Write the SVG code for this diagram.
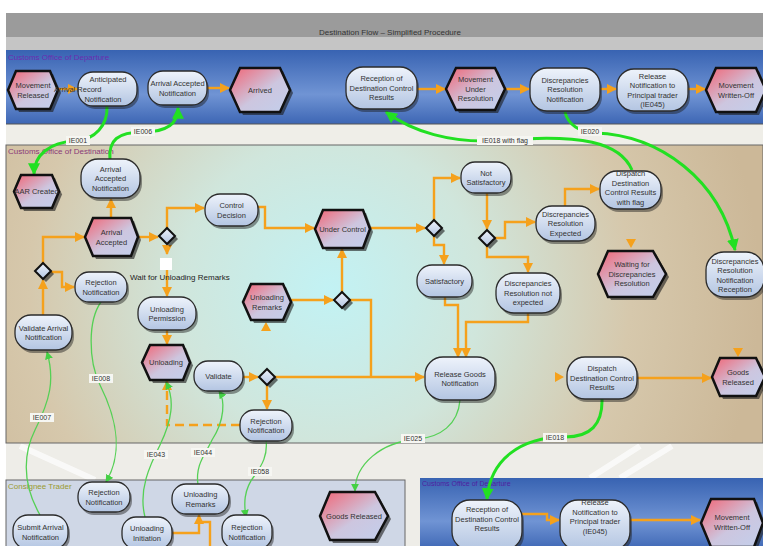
<svg xmlns="http://www.w3.org/2000/svg" width="763" height="546" viewBox="0 0 763 546">
<defs>
  <style>
    .hex{fill:url(#gHex);stroke:#111;stroke-width:2.5}
    .hsh{fill:#1a1a1a;opacity:.6}
    .rr{fill:url(#gRR);stroke:#2b2b2b;stroke-width:1.3}
    .rsh{fill:#1a1a1a;opacity:.45}
    .dia{fill:url(#gRR);stroke:#111;stroke-width:2}
    .t{font-family:"Liberation Sans",Arial,sans-serif;font-size:7.5px;fill:#333;text-anchor:middle}
    .lane{font-family:"Liberation Sans",Arial,sans-serif;font-size:8px}
    .lbl{font-family:"Liberation Sans",Arial,sans-serif;font-size:7px;fill:#333;text-anchor:middle}
    .lb{fill:#f6f6f2}
    .or{stroke:#f5a11c;stroke-width:2.4;fill:none;marker-end:url(#aO)}
    .orn{stroke:#f5a11c;stroke-width:2.4;fill:none}
    .dash{stroke:#f5a11c;stroke-width:2.4;fill:none;stroke-dasharray:9 5;marker-end:url(#aO)}
    .gT{stroke:#22e022;stroke-width:3;fill:none;marker-end:url(#aG)}
    .gt{stroke:#55d055;stroke-width:1.3;fill:none;marker-end:url(#ag)}
  </style>
  <linearGradient id="gHex" x1="0" y1="0" x2="1" y2="1">
    <stop offset="0" stop-color="#f26474"/>
    <stop offset="0.55" stop-color="#cdc6df"/>
    <stop offset="1" stop-color="#c2cfec"/>
  </linearGradient>
  <linearGradient id="gRR" x1="0" y1="0" x2="0" y2="1">
    <stop offset="0" stop-color="#eef3fb"/>
    <stop offset="1" stop-color="#b3c5e2"/>
  </linearGradient>
  <linearGradient id="gBlue" x1="0" y1="0" x2="0" y2="1">
    <stop offset="0" stop-color="#3863b2"/>
    <stop offset="0.6" stop-color="#7094d4"/>
    <stop offset="1" stop-color="#3d66b4"/>
  </linearGradient>
  <radialGradient id="gDest" cx="330" cy="290" r="430" gradientUnits="userSpaceOnUse">
    <stop offset="0" stop-color="#c2f2f4"/>
    <stop offset="0.35" stop-color="#d0e6dc"/>
    <stop offset="0.7" stop-color="#d6c8ac"/>
    <stop offset="1" stop-color="#ccb898"/>
  </radialGradient>
  <marker id="aO" viewBox="0 0 10 10" refX="9" refY="5" markerWidth="10" markerHeight="10" markerUnits="userSpaceOnUse" orient="auto"><path d="M0,0L10,5L0,10z" fill="#f5a11c"/></marker>
  <marker id="aG" viewBox="0 0 10 10" refX="9" refY="5" markerWidth="12" markerHeight="12" markerUnits="userSpaceOnUse" orient="auto"><path d="M0,0L10,5L0,10z" fill="#22e022"/></marker>
  <marker id="ag" viewBox="0 0 10 10" refX="9" refY="5" markerWidth="8" markerHeight="8" markerUnits="userSpaceOnUse" orient="auto"><path d="M0,0L10,5L0,10z" fill="#44d044"/></marker>
</defs>

<!-- page and title bar -->
<rect width="763" height="546" fill="#ffffff"/>
<rect x="6" y="13" width="757" height="24" fill="#9b9b9b"/>
<rect x="6" y="37" width="757" height="13" fill="#c5c5c5"/>
<text x="390" y="35" class="lane" style="fill:#333;text-anchor:middle">Destination Flow – Simplified Procedure</text>

<!-- swimlanes -->
<rect x="6" y="124" width="757" height="21" fill="#efeee8"/>
<rect x="6" y="443" width="757" height="103" fill="#eeede8"/>
<path d="M20,446 L95,480 M590,478 L640,446 M620,478 L672,446" stroke="#ffffff" stroke-width="6" opacity=".7"/>
<rect x="6" y="50" width="757" height="74" fill="url(#gBlue)"/>
<line x1="6" y1="124" x2="763" y2="124" stroke="#555" stroke-width="1"/>
<text x="8" y="60" class="lane" style="fill:#6a2db0">Customs Office of Departure</text>
<rect x="6" y="145" width="757" height="298" fill="url(#gDest)" stroke="#666" stroke-width="1"/>
<text x="8" y="154" class="lane" style="fill:#8a3a78">Customs Office of Destination</text>
<rect x="6" y="480" width="399" height="70" fill="#cfd7e6" stroke="#666" stroke-width="1"/>
<text x="8" y="489" class="lane" style="fill:#9a9a30">Consignee Trader</text>
<rect x="420" y="478" width="343" height="72" fill="url(#gBlue)"/>
<text x="422" y="486" class="lane" style="fill:#5020a0;font-size:7px">Customs Office of Departure</text>

<!-- connectors -->
<g id="connectors">
  <!-- sequence flows -->
  <path class="or" d="M58,89 H77"/>
  <path class="or" d="M207,88 H229"/>
  <path class="or" d="M417,89 H445"/>
  <path class="or" d="M505,89 H529"/>
  <path class="or" d="M600,89 H616"/>
  <path class="or" d="M688,89 H705"/>
  <path class="or" d="M111,218 V199"/>
  <path class="or" d="M43,264 V237 H84"/>
  <path class="or" d="M51,272 H62 V287 H74"/>
  <path class="or" d="M43,315 V280"/>
  <path class="or" d="M138,237 H158"/>
  <path class="or" d="M167,228 V208 H204"/>
  <path class="or" d="M167,245 V254"/>
  <path class="or" d="M167,270 V296"/>
  <path class="or" d="M258,207 H265 V228 H314"/>
  <path class="or" d="M370,228 H425"/>
  <path class="or" d="M434,220 V178 H460"/>
  <path class="or" d="M434,236 V245 H444 V264"/>
  <path class="or" d="M487,193 V229"/>
  <path class="or" d="M495,238 H505 V222 H535"/>
  <path class="or" d="M487,246 V257 H528 V272"/>
  <path class="or" d="M565,206 V189 H599"/>
  <path class="or" d="M445,297 V305 H458 V357"/>
  <path class="or" d="M528,313 V322 H466 V357"/>
  <path class="or" d="M291,300 H333"/>
  <path class="or" d="M342,292 V249"/>
  <path class="orn" d="M350,300 H371 V377"/>
  <path class="or" d="M275,377 H424"/>
  <path class="or" d="M243,377 H258"/>
  <path class="or" d="M267,385 V409"/>
  <path class="or" d="M167,330 V344"/>
  <path class="dash" d="M240,425 H167 V381"/>
  <path class="or" d="M637,378 H711"/>
  <path class="or" d="M172,533 H199 V515"/>
  <path class="orn" d="M210,546 V522 H200"/>
  <path class="or" d="M522,514 H547 V520 H559"/>
  <path class="or" d="M630,520 H700"/>
  <path d="M626,239 H636 L631,248 z M261,331 H271 L266,322 z M555,372 V382 L564,377 z M733,348 H743 L738,357 z" fill="#f5a11c"/>

  <!-- message flows -->
  <path class="gT" d="M107,106 C108,125 95,140 75,141 C50,142 34,155 34,174"/>
  <path class="gT" d="M110,160 C108,140 118,132 143,132 C165,132 178,125 178,108"/>
  <path class="gT" d="M632,170 C620,142 580,134 505,140 C450,145 410,130 386,112"/>
  <path class="gT" d="M565,112 C568,125 580,132 595,133 C660,135 720,180 735,250"/>
  <path class="gT" d="M602,398 C603,425 590,437 565,437 C520,437 490,460 487,499"/>
  <path class="gt" d="M40,515 C20,480 25,450 35,430 C50,400 55,380 47,352"/>
  <path class="gt" d="M101,302 C88,320 88,360 100,385 C115,415 125,450 106,482"/>
  <path class="gt" d="M145,517 C138,490 150,465 160,445 C172,420 175,400 166,382"/>
  <path class="gt" d="M198,485 C195,465 205,455 212,440 C225,420 225,400 219,391"/>
  <path class="gt" d="M266,440 C268,455 262,465 255,475 C243,490 244,505 246,517"/>
  <path class="gt" d="M460,400 C458,425 440,437 418,439 C380,442 355,465 355,491"/>

  <!-- message labels -->
  <rect class="lb" x="66" y="136" width="24" height="9"/><text class="lbl" x="78" y="143">IE001</text>
  <rect class="lb" x="131" y="127" width="24" height="9"/><text class="lbl" x="143" y="134">IE006</text>
  <rect class="lb" x="477" y="136" width="56" height="9"/><text class="lbl" x="505" y="143">IE018 with flag</text>
  <rect class="lb" x="578" y="127" width="24" height="9"/><text class="lbl" x="590" y="134">IE020</text>
  <rect class="lb" x="30" y="413" width="24" height="9"/><text class="lbl" x="42" y="420">IE007</text>
  <rect class="lb" x="89" y="374" width="24" height="9"/><text class="lbl" x="101" y="381">IE008</text>
  <rect class="lb" x="144" y="450" width="24" height="9"/><text class="lbl" x="156" y="457">IE043</text>
  <rect class="lb" x="191" y="448" width="24" height="9"/><text class="lbl" x="203" y="455">IE044</text>
  <rect class="lb" x="248" y="467" width="24" height="9"/><text class="lbl" x="260" y="474">IE058</text>
  <rect class="lb" x="401" y="434" width="24" height="9"/><text class="lbl" x="413" y="441">IE025</text>
  <rect class="lb" x="543" y="433" width="24" height="9"/><text class="lbl" x="555" y="440">IE018</text>
</g>

<!-- departure office (top) -->
<g id="movement-released"><polygon class="hsh" points="19,74 53,74 61,93 53,112 19,112 11,93"/><polygon class="hex" points="16,71 50,71 58,90 50,109 16,109 8,90"/><text class="t" x="33" y="88">Movement</text><text class="t" x="33" y="97.5">Released</text></g>
<g id="anticipated-record"><rect class="rsh" x="80" y="75" width="59" height="34" rx="15"/><rect class="rr" x="78" y="72" width="59" height="34" rx="15"/><text class="t" x="108" y="82">Anticipated</text><text class="t" x="54" y="92" style="text-anchor:start">Arrival Record</text><text class="t" x="103" y="102">Notification</text></g>
<g id="arrival-accepted-notification-dep"><rect class="rsh" x="150" y="74" width="59" height="34" rx="15"/><rect class="rr" x="148" y="71" width="59" height="34" rx="15"/><text class="t" x="177.5" y="86">Arrival Accepted</text><text class="t" x="177.5" y="95.5">Notification</text></g>
<g id="arrived"><polygon class="hsh" points="243,71 283,71 293,93 283,115 243,115 233,93"/><polygon class="hex" points="240,68 280,68 290,90 280,112 240,112 230,90"/><text class="t" x="260" y="92.7">Arrived</text></g>
<g id="reception-dcr"><rect class="rsh" x="348" y="70" width="71" height="42" rx="17"/><rect class="rr" x="346" y="67" width="71" height="42" rx="17"/><text class="t" x="381.5" y="81.2">Reception of</text><text class="t" x="381.5" y="90.7">Destination Control</text><text class="t" x="381.5" y="100.2">Results</text></g>
<g id="movement-under-resolution"><polygon class="hsh" points="459,71 498,71 508,92 498,113 459,113 449,92"/><polygon class="hex" points="456,68 495,68 505,89 495,110 456,110 446,89"/><text class="t" x="475.5" y="82.2">Movement</text><text class="t" x="475.5" y="91.7">Under</text><text class="t" x="475.5" y="101.2">Resolution</text></g>
<g id="discrepancies-resolution-notification"><rect class="rsh" x="532" y="71" width="70" height="43" rx="17"/><rect class="rr" x="530" y="68" width="70" height="43" rx="17"/><text class="t" x="565" y="82.7">Discrepancies</text><text class="t" x="565" y="92.2">Resolution</text><text class="t" x="565" y="101.7">Notification</text></g>
<g id="release-notification"><rect class="rsh" x="619" y="72" width="71" height="42" rx="17"/><rect class="rr" x="617" y="69" width="71" height="42" rx="17"/><text class="t" x="652.5" y="78.5">Release</text><text class="t" x="652.5" y="88">Notification to</text><text class="t" x="652.5" y="97.5">Principal trader</text><text class="t" x="652.5" y="107">(IE045)</text></g>
<g id="movement-written-off"><polygon class="hsh" points="719,71 759,71 769,93 759,115 719,115 709,93"/><polygon class="hex" points="716,68 756,68 766,90 756,112 716,112 706,90"/><text class="t" x="736" y="88">Movement</text><text class="t" x="736" y="97.5">Written-Off</text></g>

<!-- destination office -->
<g id="aar-created"><polygon class="hsh" points="24,178 55,178 62,194.5 55,211 24,211 17,194.5"/><polygon class="hex" points="21,175 52,175 59,191.5 52,208 21,208 14,191.5"/><text class="t" x="36.5" y="194">AAR Created</text></g>
<g id="arrival-accepted-notification-dest"><rect class="rsh" x="83" y="162" width="59" height="39" rx="17"/><rect class="rr" x="81" y="159" width="59" height="39" rx="17"/><text class="t" x="110.5" y="171.7">Arrival</text><text class="t" x="110.5" y="181.2">Accepted</text><text class="t" x="110.5" y="190.7">Notification</text></g>
<g id="arrival-accepted"><polygon class="hsh" points="96,221 134,221 141,240 134,259 96,259 88,240"/><polygon class="hex" points="93,218 131,218 138,237 131,256 93,256 85,237"/><text class="t" x="111.5" y="235">Arrival</text><text class="t" x="111.5" y="244.5">Accepted</text></g>
<g id="gw-arrival"><polygon class="hsh" points="170,231 178,239 170,247 162,239"/><polygon class="dia" points="167,228 175,236 167,244 159,236"/></g>
<g id="control-decision"><rect class="rsh" x="207" y="197" width="53" height="32" rx="15"/><rect class="rr" x="205" y="194" width="53" height="32" rx="15"/><text class="t" x="231.5" y="208">Control</text><text class="t" x="231.5" y="217.5">Decision</text></g>
<g id="under-control"><polygon class="hsh" points="326,213 366,213 373,232 366,251 326,251 318,232"/><polygon class="hex" points="323,210 363,210 370,229 363,248 323,248 315,229"/><text class="t" x="342.5" y="231.7">Under Control</text></g>
<g id="gw-control"><polygon class="hsh" points="437,223 445,231 437,239 429,231"/><polygon class="dia" points="434,220 442,228 434,236 426,228"/></g>
<g id="not-satisfactory"><rect class="rsh" x="463" y="165" width="50" height="31" rx="14"/><rect class="rr" x="461" y="162" width="50" height="31" rx="14"/><text class="t" x="486" y="175.5">Not</text><text class="t" x="486" y="185">Satisfactory</text></g>
<g id="gw-discrepancies"><polygon class="hsh" points="490,233 498,241 490,249 482,241"/><polygon class="dia" points="487,230 495,238 487,246 479,238"/></g>
<g id="discrepancies-resolution-expected"><rect class="rsh" x="538" y="209" width="59" height="35" rx="16"/><rect class="rr" x="536" y="206" width="59" height="35" rx="16"/><text class="t" x="565.5" y="216.7">Discrepancies</text><text class="t" x="565.5" y="226.2">Resolution</text><text class="t" x="565.5" y="235.7">Expected</text></g>
<g id="dispatch-dcr-flag"><rect class="rsh" x="602" y="174" width="61" height="38" rx="17"/><rect class="rr" x="600" y="171" width="61" height="38" rx="17"/><text class="t" x="630.5" y="176">Dispatch</text><text class="t" x="630.5" y="185.5">Destination</text><text class="t" x="630.5" y="195">Control  Results</text><text class="t" x="630.5" y="204.5">with flag</text></g>
<g id="waiting-discrepancies"><polygon class="hsh" points="611,254 656,254 669,277 656,300 611,300 601,277"/><polygon class="hex" points="608,251 653,251 666,274 653,297 608,297 598,274"/><text class="t" x="632" y="267.2">Waiting for</text><text class="t" x="632" y="276.7">Discrepancies</text><text class="t" x="632" y="286.2">Resolution</text></g>
<g id="discrepancies-reception"><rect class="rsh" x="708" y="255" width="58" height="45" rx="18"/><rect class="rr" x="706" y="252" width="58" height="45" rx="18"/><text class="t" x="735" y="263.5">Discrepancies</text><text class="t" x="735" y="273">Resolution</text><text class="t" x="735" y="282.5">Notification</text><text class="t" x="735" y="292">Reception</text></g>
<g id="satisfactory"><rect class="rsh" x="419" y="268" width="55" height="32" rx="15"/><rect class="rr" x="417" y="265" width="55" height="32" rx="15"/><text class="t" x="444.5" y="283.7">Satisfactory</text></g>
<g id="discrepancies-not-expected"><rect class="rsh" x="498" y="276" width="64" height="40" rx="18"/><rect class="rr" x="496" y="273" width="64" height="40" rx="18"/><text class="t" x="528" y="286.2">Discrepancies</text><text class="t" x="528" y="295.7">Resolution not</text><text class="t" x="528" y="305.2">expected</text></g>
<g id="gw-validation"><polygon class="hsh" points="46,266 54,274 46,282 38,274"/><polygon class="dia" points="43,263 51,271 43,279 35,271"/></g>
<g id="rejection-notification-1"><rect class="rsh" x="77" y="275" width="52" height="30" rx="14"/><rect class="rr" x="75" y="272" width="52" height="30" rx="14"/><text class="t" x="101" y="285">Rejection</text><text class="t" x="101" y="294.5">Notification</text></g>
<g id="validate-arrival"><rect class="rsh" x="17" y="318" width="57" height="35" rx="16"/><rect class="rr" x="15" y="315" width="57" height="35" rx="16"/><text class="t" x="43.5" y="330.5">Validate Arrival</text><text class="t" x="43.5" y="340">Notification</text></g>
<g id="unloading-remarks-dest"><polygon class="hsh" points="254,287 286,287 294,305 286,323 254,323 246,305"/><polygon class="hex" points="251,284 283,284 291,302 283,320 251,320 243,302"/><text class="t" x="267" y="300">Unloading</text><text class="t" x="267" y="309.5">Remarks</text></g>
<g id="gw-remarks"><polygon class="hsh" points="345,295 353,303 345,311 337,303"/><polygon class="dia" points="342,292 350,300 342,308 334,300"/></g>
<g id="wait-remarks"><rect x="160" y="258" width="12" height="12" fill="#ffffff"/><text x="130" y="280" class="lane" style="fill:#222">Wait for Unloading Remarks</text></g>
<g id="unloading-permission"><rect class="rsh" x="140" y="300" width="58" height="33" rx="15"/><rect class="rr" x="138" y="297" width="58" height="33" rx="15"/><text class="t" x="167" y="311.5">Unloading</text><text class="t" x="167" y="321">Permission</text></g>
<g id="unloading"><polygon class="hsh" points="153,348 186,348 193,365.5 186,383 153,383 145,365.5"/><polygon class="hex" points="150,345 183,345 190,362.5 183,380 150,380 142,362.5"/><text class="t" x="166" y="365">Unloading</text></g>
<g id="validate"><rect class="rsh" x="196" y="364" width="49" height="30" rx="14"/><rect class="rr" x="194" y="361" width="49" height="30" rx="14"/><text class="t" x="218.5" y="378.7">Validate</text></g>
<g id="gw-validate"><polygon class="hsh" points="270,372 278,380 270,388 262,380"/><polygon class="dia" points="267,369 275,377 267,385 259,377"/></g>
<g id="rejection-notification-2"><rect class="rsh" x="242" y="413" width="52" height="31" rx="14"/><rect class="rr" x="240" y="410" width="52" height="31" rx="14"/><text class="t" x="266" y="423.5">Rejection</text><text class="t" x="266" y="433">Notification</text></g>
<g id="release-goods-notification"><rect class="rsh" x="427" y="360" width="70" height="43" rx="18"/><rect class="rr" x="425" y="357" width="70" height="43" rx="18"/><text class="t" x="460" y="376.5">Release Goods</text><text class="t" x="460" y="386">Notification</text></g>
<g id="dispatch-dcr"><rect class="rsh" x="569" y="360" width="70" height="42" rx="18"/><rect class="rr" x="567" y="357" width="70" height="42" rx="18"/><text class="t" x="602" y="371.2">Dispatch</text><text class="t" x="602" y="380.7">Destination Control</text><text class="t" x="602" y="390.2">Results</text></g>
<g id="goods-released-dest"><polygon class="hsh" points="723,361 759,361 768,380 759,399 723,399 715,380"/><polygon class="hex" points="720,358 756,358 765,377 756,396 720,396 712,377"/><text class="t" x="738" y="375">Goods</text><text class="t" x="738" y="384.5">Released</text></g>

<!-- consignee trader -->
<g id="submit-arrival"><rect class="rsh" x="15" y="518" width="55" height="34" rx="15"/><rect class="rr" x="13" y="515" width="55" height="34" rx="15"/><text class="t" x="40.5" y="530">Submit Arrival</text><text class="t" x="40.5" y="539.5">Notification</text></g>
<g id="rejection-notification-3"><rect class="rsh" x="80" y="485" width="52" height="30" rx="14"/><rect class="rr" x="78" y="482" width="52" height="30" rx="14"/><text class="t" x="104" y="495">Rejection</text><text class="t" x="104" y="504.5">Notification</text></g>
<g id="unloading-initiation"><rect class="rsh" x="124" y="520" width="50" height="32" rx="14"/><rect class="rr" x="122" y="517" width="50" height="32" rx="14"/><text class="t" x="147" y="531">Unloading</text><text class="t" x="147" y="540.5">Initiation</text></g>
<g id="unloading-remarks-trader"><rect class="rsh" x="174" y="487" width="57" height="30" rx="14"/><rect class="rr" x="172" y="484" width="57" height="30" rx="14"/><text class="t" x="200.5" y="497">Unloading</text><text class="t" x="200.5" y="506.5">Remarks</text></g>
<g id="rejection-notification-4"><rect class="rsh" x="224" y="518" width="50" height="34" rx="14"/><rect class="rr" x="222" y="515" width="50" height="34" rx="14"/><text class="t" x="247" y="530">Rejection</text><text class="t" x="247" y="539.5">Notification</text></g>
<g id="goods-released-trader"><polygon class="hsh" points="333,495 378,495 391,519 378,543 333,543 323,519"/><polygon class="hex" points="330,492 375,492 388,516 375,540 330,540 320,516"/><text class="t" x="354" y="518.7">Goods Released</text></g>

<!-- departure office (bottom) -->
<g id="reception-dcr-2"><rect class="rsh" x="454" y="503" width="70" height="50" rx="18"/><rect class="rr" x="452" y="500" width="70" height="50" rx="18"/><text class="t" x="487" y="512">Reception of</text><text class="t" x="487" y="521.5">Destination  Control</text><text class="t" x="487" y="531">Results</text></g>
<g id="release-notification-2"><rect class="rsh" x="562" y="503" width="70" height="50" rx="18"/><rect class="rr" x="560" y="500" width="70" height="50" rx="18"/><text class="t" x="595" y="505">Release</text><text class="t" x="595" y="514.5">Notification to</text><text class="t" x="595" y="524">Principal trader</text><text class="t" x="595" y="533.5">(IE045)</text></g>
<g id="movement-written-off-2"><polygon class="hsh" points="714,502 757,502 766,526 757,550 714,550 704,526"/><polygon class="hex" points="711,499 754,499 763,523 754,547 711,547 701,523"/><text class="t" x="732" y="520">Movement</text><text class="t" x="732" y="529.5">Written-Off</text></g>
</svg>
